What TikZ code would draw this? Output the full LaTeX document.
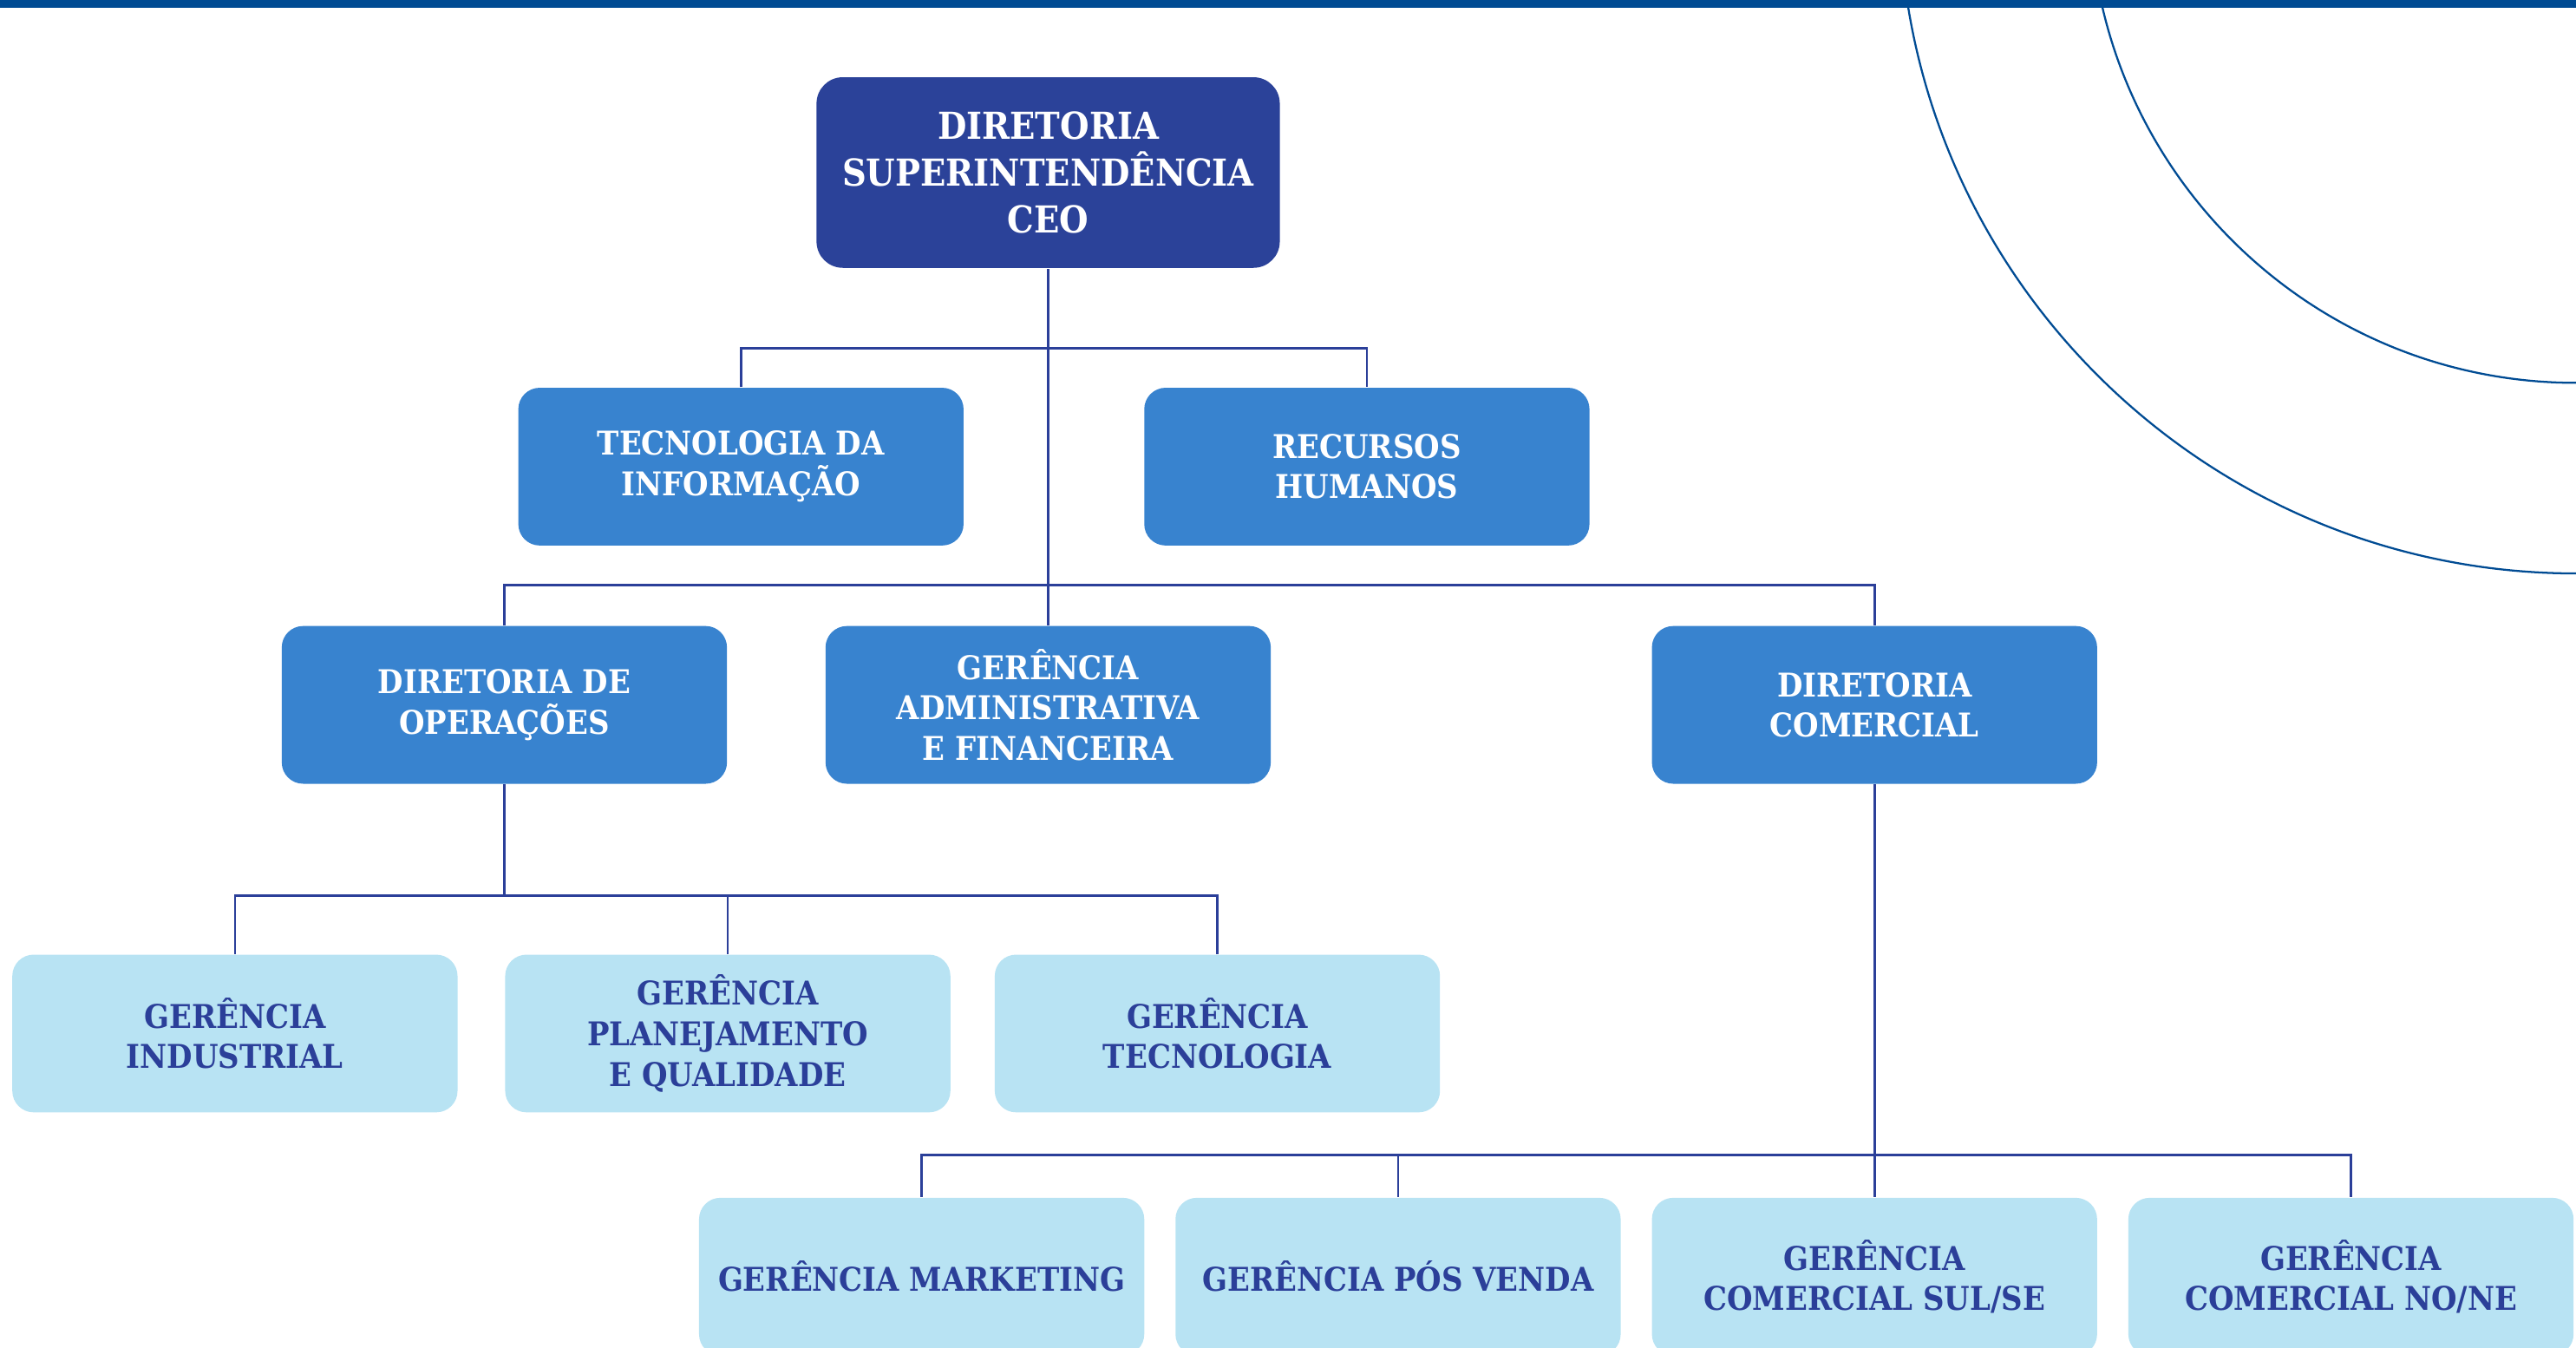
\documentclass[tikz,border=0pt]{standalone}
\usepackage{fontspec}
\setmainfont{DejaVu Serif Condensed}
\usepackage{tikz}

\definecolor{barblue}{RGB}{0,75,147}
\definecolor{ceoblue}{RGB}{43,66,153}
\definecolor{midblue}{RGB}{56,131,207}
\definecolor{paleblue}{RGB}{184,227,243}
\definecolor{inkblue}{RGB}{43,63,153}

\begin{document}
\begin{tikzpicture}[x=0.5pt,y=-0.5pt,
  ceobox/.style={rectangle,rounded corners=8pt,fill=ceoblue,text=white,align=center,
    minimum width=141pt,minimum height=58pt,inner sep=0pt,
    font=\bfseries\fontsize{11.3}{14.25}\selectfont},
  midbox/.style={rectangle,rounded corners=6.5pt,fill=midblue,text=white,align=center,
    minimum width=135.5pt,minimum height=48pt,inner sep=0pt,
    font=\bfseries\fontsize{9.95}{12.3}\selectfont},
  palebox/.style={midbox,fill=paleblue,text=inkblue},
  link/.style={draw=inkblue,line width=0.7pt}]
%set diagram frame: 1568 x 820
\clip (0,0) rectangle (1568,820);

%Shape: top bar
\fill [barblue] (0,0) rectangle (1568,4.7);
%Shape: arcs in the corner
\draw [barblue,line width=0.6pt] (1568,-63) circle [radius=206pt];
\draw [barblue,line width=0.6pt] (1568,-63) circle [radius=148pt];

% Text Node
\node [ceobox] (ceo) at (638,105) {DIRETORIA\\SUPERINTENDÊNCIA\\CEO};
% Text Node
\node [midbox] (ti) at (451,284) {TECNOLOGIA DA\\INFORMAÇÃO};
% Text Node
\node [midbox] (rh) at (832,284) {RECURSOS\\HUMANOS};
% Text Node
\node [midbox] (dirop) at (307,429) {DIRETORIA DE\\OPERAÇÕES};
% Text Node
\node [midbox] (gaf) at (638,429) {GERÊNCIA\\ADMINISTRATIVA\\E FINANCEIRA};
% Text Node
\node [midbox] (dircom) at (1141,429) {DIRETORIA\\COMERCIAL};
% Text Node
\node [palebox] (gind) at (143,629) {GERÊNCIA\\INDUSTRIAL};
% Text Node
\node [palebox] (gplan) at (443,629) {GERÊNCIA\\PLANEJAMENTO\\E QUALIDADE};
% Text Node
\node [palebox] (gtec) at (741,629) {GERÊNCIA\\TECNOLOGIA};
% Text Node
\node [palebox] (gmkt) at (561,777) {GERÊNCIA MARKETING};
% Text Node
\node [palebox] (gpos) at (851,777) {GERÊNCIA PÓS VENDA};
% Text Node
\node [palebox] (gsul) at (1141,777) {GERÊNCIA\\COMERCIAL SUL/SE};
% Text Node
\node [palebox] (gno) at (1431,777) {GERÊNCIA\\COMERCIAL NO/NE};

%Straight Lines: joints
\coordinate (j1) at (638,212);
\coordinate (j2) at (638,356);
\coordinate (j3) at (307,545);
\coordinate (j4) at (1141,703);

%Straight Lines
\draw [link] (ceo.south) -- (gaf.north);
\draw [link] (ti.north) |- (j1) -| (rh.north);
\draw [link] (dirop.north) |- (j2) -| (dircom.north);
\draw [link] (dirop.south) -- (j3);
\draw [link] (gind.north) |- (j3) -| (gtec.north);
\draw [link] (gplan.north) -- (gplan.north |- j3);
\draw [link] (dircom.south) -- (gsul.north);
\draw [link] (gmkt.north) |- (j4) -| (gno.north);
\draw [link] (gpos.north) -- (gpos.north |- j4);

\end{tikzpicture}
\end{document}
